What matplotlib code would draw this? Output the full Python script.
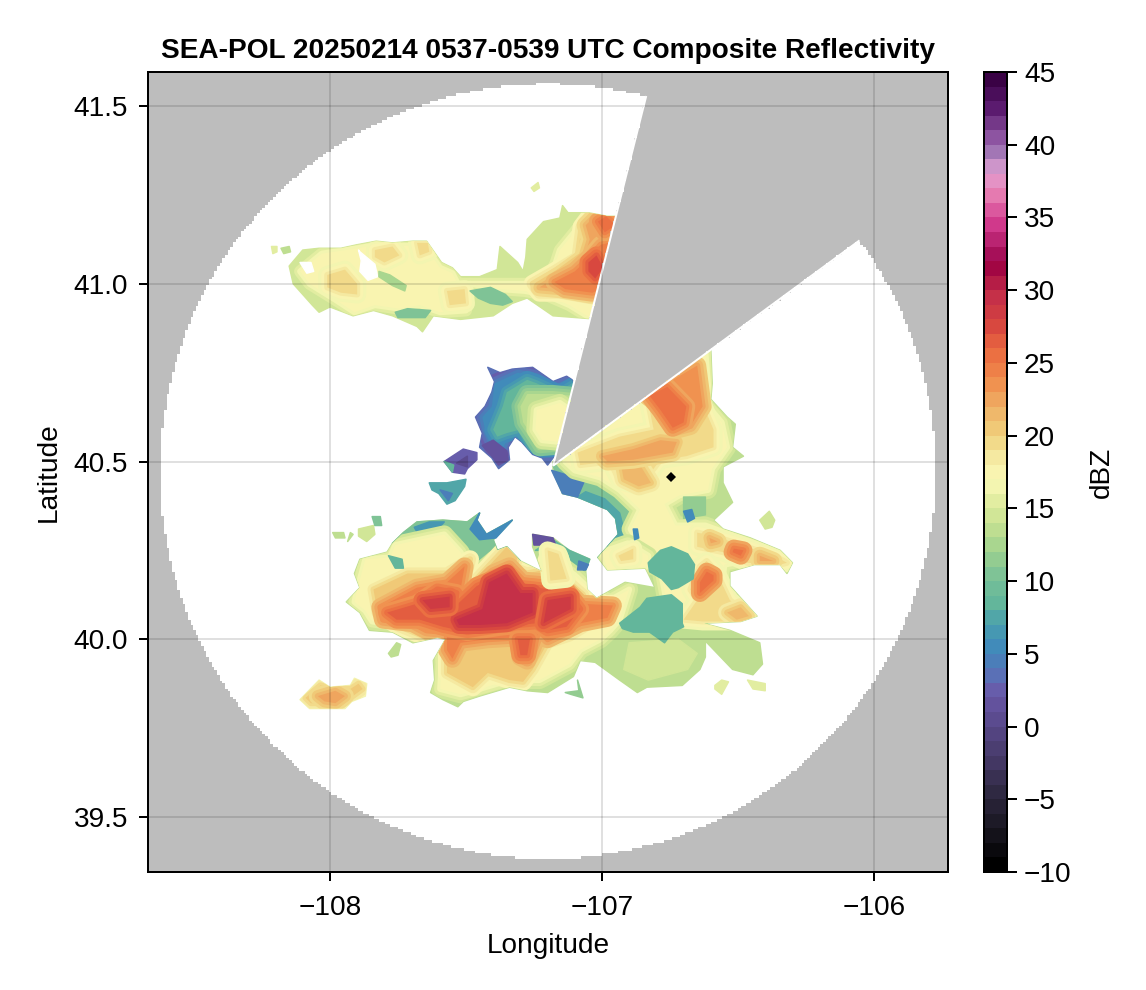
import numpy as np
from matplotlib import pyplot as plt
from matplotlib.cm import ScalarMappable
from matplotlib.colors import BoundaryNorm, LinearSegmentedColormap, ListedColormap
from matplotlib.path import Path

plt.rcParams['font.family'] = ['Liberation Sans', 'DejaVu Sans']

# Colour ramp, dBZ and colour.
ramp_dbz = [-10, -8, -5, -3, 0, 2, 3, 5, 7, 8, 10, 12, 13, 15, 17, 19, 20, 22, 24, 26,
            28, 30, 32, 33, 35, 37, 38.5, 39.5, 41, 43, 45]
ramp_colors = ['#000000', '#14121a', '#2e2840', '#423661', '#594a8c', '#6a58a8', '#5e6db5',
               '#4088bc', '#4aa0ad', '#5fb49c', '#77c097', '#a0d28f', '#b6db8f', '#dbea9a',
               '#fbf9b8', '#f3e49a', '#f1d27d', '#eeb166', '#f08a4b', '#ea6a40', '#d5423f',
               '#c22d49', '#9e0142', '#a8145f', '#d43d8f', '#e67fb3', '#e3a0d2', '#ab84bd',
               '#8b52a0', '#5a1a6e', '#3a0245']
dbz_ticks = [-10, -5, 0, 5, 10, 15, 20, 25, 30, 35, 40, 45]
lon_ticks = [-108, -107, -106]
lat_ticks = [39.5, 40.0, 40.5, 41.0, 41.5]

# Radar coverage.
radar_lon, radar_lat = -107.18, 40.488
disc_lon, disc_lat = -107.199, 40.4726
range_lon, range_lat = 1.43, 1.094
blocked_az = [14.06, 53.5]
marker_lon, marker_lat = -106.747, 40.457

# Echo outlines, lon/lat pairs.
north_edge = [(-108.15, 41.05), (-108.10, 41.095), (-108.04, 41.10), (-107.96, 41.10), (-107.90, 41.11),
              (-107.83, 41.12), (-107.77, 41.115), (-107.695, 41.12), (-107.645, 41.12), (-107.59, 41.06),
              (-107.55, 41.045), (-107.52, 41.02), (-107.45, 41.02), (-107.385, 41.04), (-107.375, 41.105),
              (-107.31, 41.06), (-107.29, 41.035), (-107.28, 41.075), (-107.275, 41.125), (-107.215, 41.175),
              (-107.155, 41.185), (-107.145, 41.22), (-107.125, 41.20), (-107.05, 41.20), (-106.98, 41.19),
              (-106.915, 41.19), (-107.01, 40.90), (-107.18, 40.91), (-107.275, 40.96), (-107.33, 40.945),
              (-107.40, 40.91), (-107.52, 40.90), (-107.62, 40.91), (-107.66, 40.865), (-107.68, 40.88),
              (-107.77, 40.91), (-107.84, 40.925), (-107.915, 40.91), (-108.00, 40.935), (-108.04, 40.92),
              (-108.065, 40.94), (-108.135, 41.0)]
north_yellow = [(-108.11, 41.035), (-108.03, 41.085), (-107.90, 41.10), (-107.825, 41.11), (-107.65, 41.105),
                (-107.595, 41.045), (-107.55, 41.03), (-107.53, 41.00), (-107.455, 41.00), (-107.34, 41.00),
                (-107.265, 41.00), (-107.20, 41.01), (-107.17, 41.06), (-107.155, 41.095), (-107.08, 41.165),
                (-107.035, 41.195), (-106.915, 41.19), (-107.005, 40.955), (-107.045, 40.905), (-107.12, 40.94),
                (-107.21, 40.97), (-107.285, 40.98), (-107.375, 40.985), (-107.485, 41.0), (-107.50, 40.925),
                (-107.595, 40.92), (-107.67, 40.94), (-107.745, 40.93), (-107.835, 40.94), (-107.91, 40.92),
                (-107.98, 40.955), (-108.075, 41.0)]
north_strip = [(-107.82, 41.035), (-107.78, 41.025), (-107.72, 40.995), (-107.725, 40.98), (-107.77, 40.995),
               (-107.82, 41.02)]
north_green_a = [(-107.485, 40.98), (-107.41, 40.99), (-107.355, 40.97), (-107.33, 40.95), (-107.365, 40.94),
                 (-107.41, 40.945), (-107.455, 40.96)]
north_green_b = [(-107.76, 40.92), (-107.715, 40.93), (-107.63, 40.925), (-107.65, 40.905), (-107.75, 40.905)]
north_tan_a = [(-108.01, 41.025), (-107.945, 41.04), (-107.90, 41.0), (-107.90, 40.97), (-107.96, 40.975),
               (-108.01, 40.99)]
north_tan_b = [(-107.835, 41.095), (-107.77, 41.105), (-107.745, 41.08), (-107.80, 41.06), (-107.835, 41.075)]
north_tan_c = [(-107.68, 41.115), (-107.64, 41.115), (-107.635, 41.09), (-107.67, 41.08)]
north_tan_d = [(-107.57, 40.98), (-107.505, 40.985), (-107.50, 40.945), (-107.56, 40.94)]
fan_20 = [(-107.255, 41.0), (-107.175, 41.035), (-107.09, 41.075), (-107.075, 41.16), (-107.04, 41.195),
          (-106.915, 41.19), (-106.99, 40.955), (-107.045, 40.96), (-107.155, 40.975), (-107.23, 40.975)]
fan_23 = [(-107.23, 40.99), (-107.155, 41.025), (-107.065, 41.075), (-107.045, 41.125), (-107.06, 41.165),
          (-107.02, 41.195), (-106.915, 41.195), (-106.99, 40.97), (-107.045, 40.97), (-107.155, 40.985)]
fan_26 = [(-107.175, 41.005), (-107.10, 41.035), (-107.045, 41.075), (-107.005, 41.11), (-106.915, 41.125),
          (-106.97, 41.0), (-107.035, 40.975), (-107.135, 40.985)]
fan_29 = [(-107.05, 41.06), (-107.02, 41.08), (-106.995, 41.045), (-107.025, 41.015), (-107.05, 41.035)]
fan_top = [(-107.015, 41.175), (-106.985, 41.19), (-106.95, 41.165), (-106.99, 41.145)]
north_gap_a = [(-107.895, 41.095), (-107.89, 41.09), (-107.835, 41.055), (-107.825, 41.02), (-107.86, 41.01),
               (-107.89, 41.035), (-107.885, 41.065)]
north_gap_b = [(-108.11, 41.06), (-108.07, 41.06), (-108.06, 41.035), (-108.085, 41.03)]
north_bit_a = [(-108.215, 41.105), (-108.195, 41.105), (-108.195, 41.09), (-108.21, 41.085)]
north_bit_b = [(-108.18, 41.10), (-108.15, 41.105), (-108.145, 41.09), (-108.17, 41.085)]
north_bit_c = [(-107.26, 41.27), (-107.235, 41.285), (-107.23, 41.27), (-107.25, 41.26)]

cap_edge = [(-107.42, 40.765), (-107.375, 40.75), (-107.33, 40.76), (-107.255, 40.765), (-107.18, 40.725),
            (-107.13, 40.74), (-107.11, 40.73), (-107.08, 40.625), (-107.14, 40.55), (-107.2, 40.49),
            (-107.22, 40.51), (-107.255, 40.52), (-107.295, 40.555), (-107.32, 40.57), (-107.345, 40.54),
            (-107.34, 40.505), (-107.38, 40.48), (-107.405, 40.51), (-107.45, 40.54), (-107.44, 40.58),
            (-107.465, 40.625), (-107.43, 40.655), (-107.405, 40.695), (-107.395, 40.725)]
cap_blue = [(-107.395, 40.72), (-107.31, 40.75), (-107.24, 40.74), (-107.165, 40.71), (-107.12, 40.725),
            (-107.08, 40.625), (-107.14, 40.55), (-107.18, 40.54), (-107.265, 40.53), (-107.31, 40.585),
            (-107.35, 40.56), (-107.365, 40.535), (-107.40, 40.54), (-107.43, 40.59), (-107.44, 40.625),
            (-107.405, 40.655)]
cap_teal = [(-107.35, 40.695), (-107.275, 40.73), (-107.24, 40.72), (-107.155, 40.69), (-107.10, 40.715),
            (-107.08, 40.625), (-107.14, 40.54), (-107.23, 40.535), (-107.265, 40.54), (-107.30, 40.59),
            (-107.35, 40.58), (-107.385, 40.57), (-107.40, 40.59), (-107.365, 40.655)]
cap_green = [(-107.275, 40.69), (-107.18, 40.69), (-107.11, 40.685), (-107.08, 40.625), (-107.155, 40.545),
             (-107.23, 40.54), (-107.255, 40.57), (-107.29, 40.61), (-107.30, 40.655)]
cap_yellow = [(-107.24, 40.645), (-107.155, 40.665), (-107.08, 40.625), (-107.155, 40.555), (-107.22, 40.56),
              (-107.245, 40.59)]
cap_purple = [(-107.44, 40.545), (-107.40, 40.56), (-107.35, 40.53), (-107.345, 40.505), (-107.38, 40.49),
              (-107.41, 40.52)]
west_a = [(-107.58, 40.50), (-107.51, 40.535), (-107.46, 40.525), (-107.46, 40.505), (-107.495, 40.48),
          (-107.505, 40.465), (-107.55, 40.47)]
west_a_core = [(-107.535, 40.495), (-107.495, 40.515), (-107.495, 40.485)]
west_a_teal = [(-107.58, 40.50), (-107.545, 40.49), (-107.55, 40.47), (-107.56, 40.48)]
west_b = [(-107.635, 40.44), (-107.57, 40.44), (-107.50, 40.45), (-107.505, 40.43), (-107.54, 40.39),
          (-107.57, 40.38), (-107.60, 40.41), (-107.625, 40.42)]
west_b_core = [(-107.595, 40.42), (-107.55, 40.41), (-107.565, 40.39)]

main_edge = [(-107.18, 40.50), (-106.60, 40.815), (-106.595, 40.72), (-106.60, 40.675), (-106.54, 40.625),
             (-106.51, 40.605), (-106.52, 40.54), (-106.48, 40.515), (-106.555, 40.485), (-106.555, 40.44),
             (-106.52, 40.385), (-106.59, 40.335), (-106.555, 40.31), (-106.455, 40.285), (-106.345, 40.25),
             (-106.30, 40.215), (-106.32, 40.185), (-106.345, 40.21), (-106.44, 40.21), (-106.53, 40.19),
             (-106.53, 40.15), (-106.43, 40.065), (-106.49, 40.05), (-106.63, 40.045), (-106.53, 40.025),
             (-106.42, 39.99), (-106.41, 39.93), (-106.445, 39.90), (-106.52, 39.915), (-106.62, 39.995),
             (-106.62, 39.95), (-106.64, 39.915), (-106.705, 39.87), (-106.835, 39.865), (-106.87, 39.85),
             (-106.935, 39.885), (-107.025, 39.935), (-107.08, 39.94), (-107.105, 39.895), (-107.20, 39.85),
             (-107.275, 39.855), (-107.34, 39.865), (-107.45, 39.84), (-107.51, 39.825), (-107.53, 39.81),
             (-107.585, 39.83), (-107.63, 39.85), (-107.615, 39.885), (-107.62, 39.94), (-107.575, 40.0),
             (-107.605, 40.005), (-107.695, 39.99), (-107.77, 40.02), (-107.855, 40.025), (-107.89, 40.075),
             (-107.94, 40.105), (-107.89, 40.145), (-107.91, 40.185), (-107.89, 40.225), (-107.79, 40.245),
             (-107.77, 40.27), (-107.73, 40.30), (-107.68, 40.33), (-107.585, 40.335), (-107.495, 40.33),
             (-107.45, 40.355), (-107.46, 40.335), (-107.425, 40.295), (-107.33, 40.335), (-107.40, 40.28),
             (-107.385, 40.25), (-107.35, 40.26), (-107.30, 40.22), (-107.22, 40.19), (-107.255, 40.26),
             (-107.255, 40.295), (-107.18, 40.285), (-107.12, 40.25), (-107.045, 40.225), (-107.06, 40.195),
             (-107.055, 40.14), (-107.02, 40.115), (-106.915, 40.16), (-106.805, 40.145), (-106.84, 40.20),
             (-106.98, 40.195), (-107.015, 40.23), (-106.98, 40.26), (-106.94, 40.295), (-106.95, 40.34),
             (-106.98, 40.365), (-107.09, 40.40), (-107.145, 40.41), (-107.18, 40.47)]
south_light = [(-106.90, 39.99), (-106.72, 40.0), (-106.65, 39.96), (-106.685, 39.915), (-106.83, 39.885),
               (-106.92, 39.915)]
east_yellow = [(-107.135, 40.50), (-106.62, 40.81), (-106.61, 40.715), (-106.615, 40.66), (-106.56, 40.61),
               (-106.54, 40.54), (-106.595, 40.48), (-106.61, 40.42), (-106.715, 40.405), (-106.77, 40.38),
               (-106.73, 40.32), (-106.62, 40.32), (-106.53, 40.295), (-106.365, 40.245), (-106.33, 40.21),
               (-106.44, 40.225), (-106.55, 40.21), (-106.56, 40.14), (-106.475, 40.07), (-106.64, 40.06),
               (-106.75, 40.055), (-106.785, 40.195), (-106.86, 40.225), (-106.86, 40.265), (-106.895, 40.31),
               (-106.86, 40.365), (-106.935, 40.42), (-107.005, 40.455), (-107.10, 40.475)]
east_tan = [(-107.09, 40.525), (-106.935, 40.57), (-106.81, 40.59), (-106.835, 40.685), (-106.69, 40.77),
            (-106.59, 40.59), (-106.59, 40.54), (-106.69, 40.515), (-106.785, 40.505), (-106.86, 40.43),
            (-106.935, 40.445), (-106.97, 40.50), (-107.08, 40.49)]
east_orange = [(-106.835, 40.685), (-106.76, 40.72), (-106.65, 40.77), (-106.63, 40.655), (-106.675, 40.60),
               (-106.725, 40.59), (-106.785, 40.655)]
east_red = [(-106.825, 40.685), (-106.76, 40.71), (-106.69, 40.655), (-106.70, 40.61), (-106.74, 40.595),
            (-106.785, 40.645)]
east_band = [(-107.0, 40.515), (-106.885, 40.535), (-106.785, 40.56), (-106.725, 40.555), (-106.74, 40.525),
             (-106.885, 40.505), (-106.98, 40.50)]
east_lobe = [(-106.93, 40.49), (-106.86, 40.49), (-106.82, 40.44), (-106.865, 40.43), (-106.92, 40.45)]
east_green = [(-106.70, 40.40), (-106.62, 40.40), (-106.62, 40.35), (-106.70, 40.34)]
east_spot_a = [(-106.70, 40.36), (-106.67, 40.365), (-106.66, 40.34), (-106.685, 40.33)]
east_spot_b = [(-106.885, 40.31), (-106.87, 40.31), (-106.865, 40.285), (-106.88, 40.28)]
rim_green = [(-107.18, 40.49), (-107.10, 40.475), (-107.005, 40.455), (-106.915, 40.405), (-106.825, 40.365),
             (-106.825, 40.28), (-106.86, 40.225), (-107.015, 40.23), (-106.98, 40.26), (-106.94, 40.295),
             (-106.95, 40.34), (-106.98, 40.365), (-107.09, 40.40), (-107.145, 40.41)]
rim_blue = [(-107.09, 40.40), (-107.06, 40.415), (-106.99, 40.395), (-106.935, 40.355), (-106.91, 40.28),
            (-106.93, 40.25), (-106.98, 40.26), (-106.94, 40.295), (-106.95, 40.34), (-106.98, 40.365)]
rim_apex = [(-107.185, 40.475), (-107.12, 40.46), (-107.065, 40.445), (-107.09, 40.40), (-107.145, 40.41)]
lake_north = [(-106.83, 40.215), (-106.785, 40.25), (-106.745, 40.26), (-106.685, 40.24), (-106.66, 40.21),
              (-106.665, 40.17), (-106.72, 40.145), (-106.745, 40.14), (-106.78, 40.17), (-106.825, 40.19)]
lake_south = [(-106.935, 40.045), (-106.86, 40.09), (-106.835, 40.115), (-106.745, 40.125), (-106.705, 40.10),
              (-106.705, 40.045), (-106.70, 40.035), (-106.74, 40.02), (-106.77, 39.99), (-106.825, 40.02),
              (-106.885, 40.02), (-106.925, 40.03)]
se_band = [(-106.65, 40.30), (-106.59, 40.29), (-106.505, 40.27), (-106.355, 40.23), (-106.32, 40.215),
           (-106.345, 40.21), (-106.465, 40.215), (-106.555, 40.245), (-106.65, 40.26)]
se_band_core = [(-106.515, 40.255), (-106.48, 40.25), (-106.49, 40.235), (-106.52, 40.245)]
se_band_a = [(-106.605, 40.285), (-106.575, 40.275), (-106.60, 40.27)]
se_band_b = [(-106.42, 40.235), (-106.37, 40.22), (-106.42, 40.22)]
se_lobe = [(-106.64, 40.205), (-106.615, 40.22), (-106.58, 40.19), (-106.555, 40.15), (-106.53, 40.11),
           (-106.455, 40.065), (-106.505, 40.05), (-106.63, 40.05), (-106.70, 40.055), (-106.65, 40.11),
           (-106.675, 40.14), (-106.665, 40.16)]
se_lobe_core = [(-106.64, 40.16), (-106.615, 40.19), (-106.59, 40.18), (-106.59, 40.165), (-106.64, 40.13)]
se_lobe_tip = [(-106.54, 40.075), (-106.49, 40.09), (-106.46, 40.065), (-106.505, 40.055)]
notch_yellow = [(-107.0, 40.245), (-106.905, 40.27), (-106.83, 40.235), (-106.83, 40.205), (-106.98, 40.195)]
notch_tan = [(-106.94, 40.235), (-106.885, 40.255), (-106.885, 40.225), (-106.93, 40.22)]

sw_yellow = [(-107.90, 40.14), (-107.87, 40.225), (-107.78, 40.23), (-107.76, 40.265), (-107.58, 40.295),
             (-107.52, 40.245), (-107.485, 40.195), (-107.45, 40.19), (-107.395, 40.225), (-107.31, 40.19),
             (-107.265, 40.18), (-107.21, 40.175), (-107.18, 40.225), (-107.10, 40.18), (-107.045, 40.14),
             (-106.97, 40.11), (-106.90, 40.14), (-106.935, 40.055), (-106.97, 40.025), (-107.005, 40.0),
             (-107.08, 39.97), (-107.12, 39.93), (-107.23, 39.885), (-107.34, 39.885), (-107.45, 39.86),
             (-107.52, 39.845), (-107.595, 39.86), (-107.59, 39.93), (-107.595, 39.985), (-107.56, 40.01),
             (-107.685, 40.01), (-107.76, 40.04), (-107.845, 40.05), (-107.87, 40.08), (-107.91, 40.105)]
sw_tan = [(-107.84, 40.14), (-107.715, 40.185), (-107.57, 40.185), (-107.485, 40.225), (-107.515, 40.13),
          (-107.46, 40.17), (-107.35, 40.26), (-107.31, 40.23), (-107.325, 40.20), (-107.275, 40.185),
          (-107.215, 40.195), (-107.20, 40.23), (-107.155, 40.23), (-107.13, 40.165), (-107.07, 40.125),
          (-107.055, 40.095), (-106.96, 40.10), (-106.96, 40.075), (-107.045, 40.045), (-107.12, 40.01),
          (-107.20, 39.99), (-107.255, 39.915), (-107.29, 39.88), (-107.34, 39.885), (-107.42, 39.905),
          (-107.475, 39.865), (-107.57, 39.905), (-107.57, 39.99), (-107.645, 40.005), (-107.755, 40.04),
          (-107.825, 40.075)]
sw_orange = [(-107.815, 40.09), (-107.68, 40.145), (-107.57, 40.16), (-107.505, 40.205), (-107.52, 40.14),
             (-107.46, 40.14), (-107.40, 40.185), (-107.34, 40.205), (-107.29, 40.165), (-107.215, 40.16),
             (-107.145, 40.15), (-107.08, 40.10), (-106.96, 40.095), (-106.98, 40.06), (-107.08, 40.045),
             (-107.20, 40.0), (-107.23, 40.025), (-107.275, 39.94), (-107.30, 39.95), (-107.31, 40.005),
             (-107.42, 40.0), (-107.52, 39.99), (-107.55, 39.945), (-107.57, 39.97), (-107.57, 40.02),
             (-107.645, 40.025), (-107.695, 40.045), (-107.805, 40.055)]
sw_red = [(-107.79, 40.075), (-107.68, 40.10), (-107.605, 40.14), (-107.535, 40.13), (-107.55, 40.085),
          (-107.46, 40.15), (-107.35, 40.185), (-107.30, 40.15), (-107.13, 40.135), (-107.08, 40.085),
          (-107.13, 40.035), (-107.20, 40.025), (-107.24, 40.045), (-107.375, 40.035), (-107.495, 40.02),
          (-107.585, 40.035), (-107.67, 40.055), (-107.755, 40.055)]
sw_crimson_a = [(-107.535, 40.055), (-107.44, 40.085), (-107.415, 40.16), (-107.35, 40.185), (-107.30, 40.13),
                (-107.255, 40.13), (-107.255, 40.075), (-107.35, 40.045), (-107.45, 40.04), (-107.525, 40.04)]
sw_crimson_b = [(-107.66, 40.11), (-107.56, 40.12), (-107.56, 40.09), (-107.63, 40.085)]
sw_crimson_c = [(-107.20, 40.11), (-107.115, 40.12), (-107.115, 40.085), (-107.215, 40.045)]
sw_streak = [(-107.31, 40.0), (-107.265, 40.0), (-107.275, 39.955), (-107.30, 39.955)]
rim_north = [(-107.77, 40.27), (-107.73, 40.30), (-107.68, 40.33), (-107.585, 40.335), (-107.495, 40.33),
             (-107.45, 40.355), (-107.46, 40.335), (-107.425, 40.295), (-107.33, 40.335), (-107.40, 40.28),
             (-107.385, 40.25), (-107.35, 40.26), (-107.30, 40.22), (-107.31, 40.195), (-107.395, 40.235),
             (-107.455, 40.195), (-107.485, 40.22), (-107.52, 40.265), (-107.62, 40.29), (-107.695, 40.265),
             (-107.76, 40.245)]
rim_north_a = [(-107.69, 40.315), (-107.635, 40.33), (-107.58, 40.33), (-107.62, 40.295), (-107.675, 40.295)]
rim_north_b = [(-107.45, 40.355), (-107.46, 40.335), (-107.425, 40.295), (-107.33, 40.335), (-107.39, 40.285),
               (-107.45, 40.28), (-107.485, 40.31)]
ridge_band = [(-107.18, 40.28), (-107.12, 40.25), (-107.045, 40.225), (-107.06, 40.195), (-107.11, 40.19),
              (-107.155, 40.225), (-107.195, 40.25), (-107.245, 40.25)]
ridge_purple = [(-107.255, 40.295), (-107.18, 40.285), (-107.17, 40.265), (-107.25, 40.265)]
ridge_spot = [(-107.085, 40.22), (-107.05, 40.21), (-107.06, 40.195), (-107.09, 40.195)]
ridge_tan = [(-107.20, 40.25), (-107.16, 40.24), (-107.13, 40.17), (-107.19, 40.165)]
west_green = [(-107.785, 40.235), (-107.735, 40.225), (-107.73, 40.20), (-107.76, 40.20)]
bit_a = [(-107.99, 40.30), (-107.95, 40.30), (-107.945, 40.285), (-107.98, 40.285)]
bit_b = [(-107.925, 40.30), (-107.915, 40.295), (-107.935, 40.275)]
bit_c = [(-107.895, 40.31), (-107.84, 40.32), (-107.835, 40.295), (-107.865, 40.275), (-107.895, 40.29)]
bit_d = [(-107.845, 40.345), (-107.815, 40.345), (-107.81, 40.32), (-107.835, 40.32)]
bit_e = [(-107.785, 39.96), (-107.755, 39.99), (-107.74, 39.985), (-107.75, 39.955), (-107.775, 39.95)]
bit_f = [(-107.135, 39.85), (-107.085, 39.855), (-107.09, 39.885), (-107.07, 39.835), (-107.115, 39.845)]
bit_g = [(-106.42, 40.335), (-106.385, 40.36), (-106.365, 40.335), (-106.375, 40.315), (-106.40, 40.31)]
bit_h = [(-106.585, 39.87), (-106.56, 39.885), (-106.535, 39.88), (-106.56, 39.845), (-106.585, 39.86)]
bit_i = [(-106.465, 39.885), (-106.40, 39.875), (-106.40, 39.855), (-106.445, 39.86)]
far_sw_edge = [(-108.11, 39.83), (-108.04, 39.885), (-108.0, 39.865), (-107.925, 39.87), (-107.91, 39.89),
               (-107.865, 39.875), (-107.87, 39.84), (-107.92, 39.825), (-107.945, 39.805), (-108.075, 39.805)]
far_sw_tan = [(-108.09, 39.835), (-108.035, 39.87), (-107.925, 39.86), (-107.895, 39.875), (-107.88, 39.86),
              (-107.925, 39.835), (-107.965, 39.82), (-108.07, 39.82)]
far_sw_core = [(-108.045, 39.84), (-107.98, 39.855), (-107.945, 39.84), (-107.98, 39.82), (-108.02, 39.825)]

# Paint order with the dBZ of each outline.
base_layers = [
    (14, north_edge), (3, cap_edge), (2, west_a), (7, west_b), (13, main_edge), (16, far_sw_edge),
    (14, south_light), (10, rim_green), (7, rim_blue), (4, rim_apex),
    (10, rim_north), (6, rim_north_a), (5, rim_north_b), (8, ridge_band), (1, ridge_purple),
]
graded_layers = [
    (17, north_yellow), (19, north_tan_a), (19, north_tan_b), (19, north_tan_c), (19, north_tan_d),
    (20, fan_20), (22, fan_23), (24, fan_26), (27, fan_29), (25, fan_top),
    (5, cap_blue), (8, cap_teal), (13, cap_green), (17, cap_yellow),
    (17, east_yellow), (17, sw_yellow), (17, notch_yellow),
    (19, east_tan), (21, east_lobe), (22, east_band), (23, east_orange), (25, east_red),
    (19, se_band), (22, se_band_a), (22, se_band_b), (25, se_band_core),
    (19, se_lobe), (25, se_lobe_core), (21, se_lobe_tip), (19, notch_tan),
    (20, sw_tan), (24, sw_orange), (26, sw_red), (29, sw_crimson_a), (28, sw_crimson_b), (28, sw_crimson_c),
    (26, sw_streak), (19, ridge_tan),
    (20, far_sw_tan), (22, far_sw_core),
]
top_layers = [
    (None, north_gap_a), (None, north_gap_b), (12, north_strip), (10, north_green_a), (10, north_green_b),
    (15, north_bit_a), (13, north_bit_b), (15, north_bit_c),
    (1, cap_purple), (0, west_a_core), (8, west_a_teal), (4, west_b_core),
    (11, east_green), (5, east_spot_a), (5, east_spot_b), (8, lake_north), (8, lake_south),
    (4, ridge_spot), (8, west_green),
    (13, bit_a), (13, bit_b), (14, bit_c), (10, bit_d), (13, bit_e), (11, bit_f), (14, bit_g), (15, bit_h),
    (15, bit_i),
]
echo_outlines = [north_edge, cap_edge, main_edge, far_sw_edge]

x_lim = (-108.669, -105.728)
y_lim = (39.345, 41.596)
fig_w, fig_h = 1146, 990
px = 0.72  # points per pixel at dpi 100
ring_steps = [3, 2, 1]
ring_widths = [18, 12, 6]

cmap = LinearSegmentedColormap.from_list(
    'dbz', [((d + 10) / 55, c) for d, c in zip(ramp_dbz, ramp_colors)], N=55)
norm = BoundaryNorm(np.arange(-10, 46), 55)

fig = plt.figure(figsize=(fig_w / 100, fig_h / 100), dpi=100)
ax = fig.add_axes([148 / fig_w, 1 - 872 / fig_h, 800 / fig_w, 800 / fig_h])
cax = fig.add_axes([984 / fig_w, 1 - 872 / fig_h, 23 / fig_w, 800 / fig_h])


def draw_flat(level, outline):
    lons, lats = zip(*outline)
    color = 'white' if level is None else cmap(norm(level))
    ax.fill(lons, lats, facecolor=color, edgecolor=color, lw=1.5 * px, joinstyle='round', zorder=1)


for level, outline in base_layers:
    draw_flat(level, outline)

# Inner outlines fade down to what lies under them, kept inside the echo area.
echo_area = Path.make_compound_path(*[Path(np.array(o + [o[0]]), closed=True) for o in echo_outlines])
for level, outline in graded_layers:
    lons, lats = zip(*outline)
    for step, width in zip(ring_steps, ring_widths):
        ring = ax.fill(lons, lats, facecolor=cmap(norm(level - step)), edgecolor=cmap(norm(level - step)),
                       lw=width * px, joinstyle='round', zorder=1)[0]
        ring.set_clip_path(echo_area, ax.transData)
    top = ax.fill(lons, lats, facecolor=cmap(norm(level)), lw=0, zorder=1)[0]
    top.set_clip_path(echo_area, ax.transData)

for level, outline in top_layers:
    draw_flat(level, outline)

# No-data area, on a coarse grid so that its rim stays stepped.
grid_lon = np.linspace(x_lim[0], x_lim[1], 301)
grid_lat = np.linspace(y_lim[0], y_lim[1], 301)
lon2d, lat2d = np.meshgrid(grid_lon, grid_lat)
outside = ((lon2d - disc_lon) / range_lon) ** 2 + ((lat2d - disc_lat) / range_lat) ** 2 > 1
az = np.degrees(np.arctan2((lon2d - radar_lon) * np.cos(np.radians(radar_lat)), lat2d - radar_lat))
blocked = (az > blocked_az[0]) & (az < blocked_az[1])
nodata = np.ma.masked_where(~(outside | blocked), np.ones_like(lon2d))
ax.imshow(nodata, cmap=ListedColormap(['#bdbdbd']), extent=(*x_lim, *y_lim), origin='lower',
          interpolation='nearest', aspect='auto', zorder=1.5)

# Thin white seam along the blocked sector, stops at the rim.
for angle in blocked_az:
    reach = np.linspace(0, range_lat * 1.2, 400)
    seam_lon = radar_lon + reach * np.sin(np.radians(angle)) / np.cos(np.radians(radar_lat))
    seam_lat = radar_lat + reach * np.cos(np.radians(angle))
    inside = ((seam_lon - disc_lon) / range_lon) ** 2 + ((seam_lat - disc_lat) / range_lat) ** 2 <= 1
    ax.plot(seam_lon[inside], seam_lat[inside], color='white', lw=2 * px, zorder=1.6, solid_capstyle='butt')

ax.plot([marker_lon], [marker_lat], marker='D', color='black', ms=7 * px, mew=0, zorder=3)

ax.set_xlim(*x_lim)
ax.set_ylim(*y_lim)
ax.set_xticks(lon_ticks)
ax.set_yticks(lat_ticks)
ax.set_yticklabels(['%.1f' % v for v in lat_ticks])
ax.set_axisbelow(False)
ax.grid(True, color='black', alpha=0.12, lw=2 * px)
ax.tick_params(length=9 * px, width=2 * px, labelsize=28 * px)
ax.tick_params(axis='x', pad=14 * px)
ax.tick_params(axis='y', pad=11 * px)
for spine in ax.spines.values():
    spine.set_linewidth(2 * px)
ax.set_xlabel('Longitude', fontsize=28 * px, labelpad=12 * px)
ax.set_ylabel('Latitude', fontsize=28 * px, labelpad=12 * px)
ax.set_title('SEA-POL 20250214 0537-0539 UTC Composite Reflectivity', fontsize=28 * px,
             fontweight='bold', pad=14 * px)

cbar = fig.colorbar(ScalarMappable(norm=norm, cmap=cmap), cax=cax, ticks=dbz_ticks, spacing='proportional',
                    drawedges=False)
cbar.outline.set_linewidth(2 * px)
cbar.ax.tick_params(length=10 * px, width=2 * px, labelsize=28 * px, pad=7 * px)
cbar.ax.minorticks_off()
cbar.set_label('dBZ', fontsize=28 * px, labelpad=17 * px)

fig.savefig('out.png', dpi=100)
